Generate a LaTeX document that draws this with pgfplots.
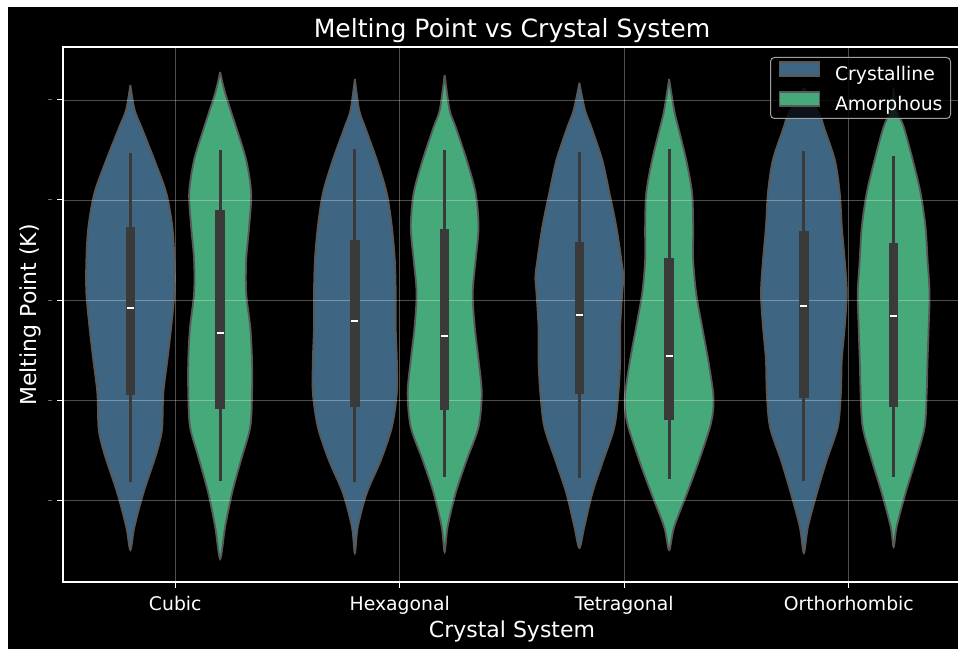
\documentclass[border=0pt]{standalone}
\usepackage{fontspec}
\setmainfont{DejaVu Sans}
\usepackage{pgfplots}
\pgfplotsset{compat=1.18}
\usepackage{pgfplotstable}

\definecolor{crys}{RGB}{62,102,131}
\definecolor{amor}{RGB}{70,169,122}
\definecolor{vedge}{RGB}{88,88,88}
\definecolor{innergray}{RGB}{58,58,58}
\definecolor{tickgray}{RGB}{110,110,110}
\definecolor{legendgray}{RGB}{160,160,160}
\pagecolor{black}

% Violin outlines: melting point (K) and signed offset from the violin centre
% (category units); right side top to bottom, then left side back up.
\pgfplotstableread{
y dx
2575 0
2450 0.019
2365 0.049
2200 0.107
2035 0.160
1865 0.187
1700 0.196
1535 0.196
1365 0.182
1200 0.165
1035 0.147
865 0.142
785 0.129
700 0.107
535 0.058
365 0.018
250 0
365 -0.018
535 -0.058
700 -0.107
785 -0.129
865 -0.142
1035 -0.147
1200 -0.165
1365 -0.182
1535 -0.196
1700 -0.196
1865 -0.187
2035 -0.160
2200 -0.107
2365 -0.049
2450 -0.019
2575 0
}\cubicCr
\pgfplotstableread{
y dx
2640 0
2535 0.022
2365 0.071
2200 0.116
2035 0.138
1865 0.129
1700 0.116
1535 0.116
1365 0.134
1200 0.142
1035 0.142
865 0.134
700 0.093
535 0.053
365 0.022
205 0
365 -0.022
535 -0.053
700 -0.093
865 -0.134
1035 -0.142
1200 -0.142
1365 -0.134
1535 -0.116
1700 -0.116
1865 -0.129
2035 -0.138
2200 -0.116
2365 -0.071
2535 -0.022
2640 0
}\cubicAm
\pgfplotstableread{
y dx
2605 0
2450 0.019
2365 0.045
2200 0.098
2035 0.142
1865 0.165
1700 0.178
1535 0.182
1365 0.182
1200 0.187
1035 0.187
865 0.165
700 0.116
535 0.053
365 0.013
235 0
365 -0.013
535 -0.053
700 -0.116
865 -0.165
1035 -0.187
1200 -0.187
1365 -0.182
1535 -0.182
1700 -0.178
1865 -0.165
2035 -0.142
2200 -0.098
2365 -0.045
2450 -0.019
2605 0
}\hexCr
\pgfplotstableread{
y dx
2625 0
2450 0.022
2365 0.049
2200 0.098
2035 0.138
1865 0.151
1700 0.138
1535 0.125
1365 0.134
1200 0.151
1035 0.165
865 0.151
700 0.098
535 0.049
365 0.013
240 0
365 -0.013
535 -0.049
700 -0.098
865 -0.151
1035 -0.165
1200 -0.151
1365 -0.134
1535 -0.125
1700 -0.138
1865 -0.151
2035 -0.138
2200 -0.098
2365 -0.049
2450 -0.022
2625 0
}\hexAm
\pgfplotstableread{
y dx
2586 0
2450 0.025
2365 0.053
2200 0.102
2035 0.134
1865 0.165
1700 0.187
1615 0.196
1535 0.191
1365 0.182
1200 0.182
1035 0.174
865 0.156
700 0.107
535 0.058
365 0.022
260 0
365 -0.022
535 -0.058
700 -0.107
865 -0.156
1035 -0.174
1200 -0.182
1365 -0.182
1535 -0.191
1615 -0.196
1700 -0.187
1865 -0.165
2035 -0.134
2200 -0.102
2365 -0.053
2450 -0.025
2586 0
}\tetCr
\pgfplotstableread{
y dx
2605 0
2450 0.022
2365 0.040
2200 0.076
2035 0.102
1865 0.107
1700 0.107
1535 0.120
1365 0.147
1200 0.174
1035 0.196
950 0.196
865 0.182
700 0.134
535 0.080
365 0.022
250 0
365 -0.022
535 -0.080
700 -0.134
865 -0.182
950 -0.196
1035 -0.196
1200 -0.174
1365 -0.147
1535 -0.120
1700 -0.107
1865 -0.107
2035 -0.102
2200 -0.076
2365 -0.040
2450 -0.022
2605 0
}\tetAm
\pgfplotstableread{
y dx
2560 0
2500 0.030
2450 0.060
2400 0.080
2365 0.089
2200 0.138
2035 0.160
1865 0.169
1700 0.182
1535 0.191
1365 0.182
1200 0.169
1035 0.165
865 0.151
700 0.102
535 0.058
365 0.018
235 0
365 -0.018
535 -0.058
700 -0.102
865 -0.151
1035 -0.165
1200 -0.169
1365 -0.182
1535 -0.191
1700 -0.182
1865 -0.169
2035 -0.160
2200 -0.138
2365 -0.089
2400 -0.080
2450 -0.060
2500 -0.030
2560 0
}\orthCr
\pgfplotstableread{
y dx
2560 0
2450 0.013
2365 0.045
2200 0.085
2035 0.120
1865 0.142
1700 0.151
1535 0.160
1365 0.156
1200 0.151
1035 0.147
865 0.138
700 0.098
535 0.053
365 0.013
265 0
365 -0.013
535 -0.053
700 -0.098
865 -0.138
1035 -0.147
1200 -0.151
1365 -0.156
1535 -0.160
1700 -0.151
1865 -0.142
2035 -0.120
2200 -0.085
2365 -0.045
2450 -0.013
2560 0
}\orthAm

% one violin: #1 table, #2 centre, #3 fill colour
\newcommand{\violin}[3]{%
  \addplot[fill=#3, draw=vedge, line width=1.8pt, smooth, forget plot,
    on layer=axis background]
    table[x expr={#2+\thisrow{dx}}, y=y] {#1};
}
% inner box: position, lower whisker, Q1, median, Q3, upper whisker
\newcommand{\innerbox}[6]{%
  \addplot[innergray, line width=3pt, forget plot] coordinates {(#1,#2) (#1,#6)};
  \addplot[innergray, line width=9.4pt, forget plot] coordinates {(#1,#3) (#1,#5)};
  \addplot[white, line width=2pt, forget plot]
    coordinates {(#1-0.016,#4) (#1+0.016,#4)};
}

\pgfplotsset{
  patch legend/.style={legend image code/.code={%
      \draw[##1, sharp corners, fill opacity=1] (0pt,-0.5pt) rectangle (40pt,13.5pt);}},
}

\begin{document}%
\begin{tikzpicture}
% white margin strips at the left and top edges
\fill[white] (0pt,0pt) rectangle (8pt,649pt);
\fill[white] (0pt,642pt) rectangle (958pt,649pt);
\begin{axis}[
  at={(63pt,67pt)}, anchor=south west,
  scale only axis, width=898pt, height=535pt,
  set layers=standard,
  xmin=-0.5, xmax=3.5, ymin=90, ymax=2765,
  xtick={0,1,2,3},
  xticklabels={Cubic,Hexagonal,Tetragonal,Orthorhombic},
  ytick={500,1000,1500,2000,2500},
  yticklabel={\rule{4pt}{1pt}},
  yticklabel style={anchor=east, inner sep=0pt, xshift=-5pt, text=tickgray},
  xticklabel style={anchor=base, yshift=-22pt, text=white,
      font=\fontsize{18.8pt}{22pt}\selectfont},
  xtick pos=lower, ytick pos=left,
  tick align=outside, major tick length=6pt,
  tick style={white, line width=1pt},
  axis line style={white, line width=1.2pt},
  grid=major,
  major grid style={white, opacity=0.3, line width=0.9pt},
  legend style={at={(1,1)}, anchor=north east, xshift=-10pt, yshift=-10pt,
      fill=black, fill opacity=0.8, text opacity=1, draw=legendgray, draw opacity=1,
      line width=1pt, rounded corners=4pt, text=white,
      font=\fontsize{18.8pt}{22pt}\selectfont,
      inner xsep=8pt, inner ysep=4pt, row sep=7pt, column sep=15pt,
      nodes={inner sep=0pt, text height=13.5pt, text depth=4pt}},
  legend cell align=left,
]
\violin{\cubicCr}{-0.2}{crys}
\violin{\cubicAm}{0.2}{amor}
\violin{\hexCr}{0.8}{crys}
\violin{\hexAm}{1.2}{amor}
\violin{\tetCr}{1.8}{crys}
\violin{\tetAm}{2.2}{amor}
\violin{\orthCr}{2.8}{crys}
\violin{\orthAm}{3.2}{amor}

\innerbox{-0.2}{590}{1025}{1460}{1865}{2235}
\innerbox{0.2}{595}{955}{1335}{1950}{2250}
\innerbox{0.8}{590}{965}{1395}{1800}{2255}
\innerbox{1.2}{615}{950}{1320}{1855}{2250}
\innerbox{1.8}{610}{1030}{1425}{1790}{2240}
\innerbox{2.2}{605}{900}{1220}{1710}{2255}
\innerbox{2.8}{595}{1010}{1470}{1845}{2245}
\innerbox{3.2}{615}{965}{1420}{1785}{2220}

\addlegendimage{patch legend, fill=crys, draw=vedge, line width=1.5pt}
\addlegendentry{Crystalline}
\addlegendimage{patch legend, fill=amor, draw=vedge, line width=1.5pt}
\addlegendentry{Amorphous}
\end{axis}
\node[anchor=base, text=white, font=\fontsize{25.1pt}{30pt}\selectfont]
  at (512pt,611pt) {Melting Point vs Crystal System};
\node[anchor=base, text=white, font=\fontsize{22pt}{26pt}\selectfont]
  at (512pt,12pt) {Crystal System};
\node[anchor=base, rotate=90, text=white, font=\fontsize{22pt}{26pt}\selectfont]
  at (36pt,334pt) {Melting Point (K)};
\pgfresetboundingbox
\useasboundingbox (0pt,0pt) rectangle (958pt,649pt);
\end{tikzpicture}%
\end{document}
